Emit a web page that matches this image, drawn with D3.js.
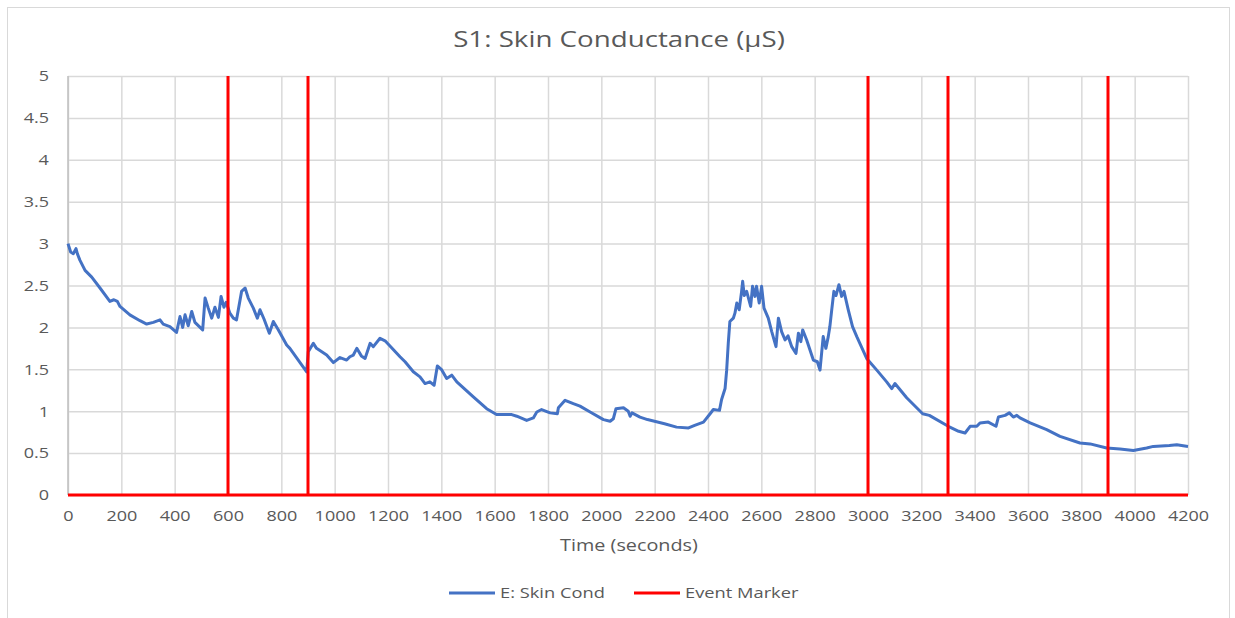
<!DOCTYPE html>
<html>
<head>
<meta charset="utf-8">
<script src="https://cdn.jsdelivr.net/npm/d3@7"></script>
<style>
  body { margin: 0; background: #fff; }
  text { font-family: "Open Sans", sans-serif; fill: #595959; }
  .stretch { transform-box: fill-box; transform-origin: center; transform: scaleX(1.2); }
  .title { transform-box: fill-box; transform-origin: center; transform: scaleX(1.32); }
  .ylab { transform-box: fill-box; transform-origin: right; transform: scaleX(1.2); }
  .grid line { stroke: #d9d9d9; stroke-width: 1.5; }
  .grid path { display: none; }
</style>
</head>
<body>
<div class="chartdiv"></div>
<script>
// skin conductance samples
var times = [0, 10, 20, 30, 35, 45, 64, 89, 120, 157, 172, 185, 195, 232, 270, 295, 320, 345, 357, 382,
  407, 420, 430, 439, 451, 464, 476, 505, 514, 526, 539, 551, 564, 574, 585, 593, 607, 620, 632, 651,
  664, 676, 695, 710, 720, 735, 755, 770, 789, 820, 832, 895, 901, 920, 932, 970, 995, 1020, 1045, 1057,
  1070, 1083, 1100, 1114, 1133, 1145, 1170, 1189, 1245, 1264, 1295, 1320, 1339, 1357, 1373, 1385, 1400, 1420, 1439, 1458,
  1520, 1570, 1607, 1633, 1664, 1683, 1720, 1745, 1758, 1776, 1808, 1835, 1839, 1864, 1895, 1920, 1958, 2008, 2033, 2045,
  2055, 2083, 2101, 2108, 2115, 2145, 2173, 2237, 2282, 2327, 2350, 2383, 2408, 2420, 2443, 2451, 2464, 2470, 2476, 2482,
  2495, 2501, 2508, 2517, 2526, 2530, 2536, 2545, 2560, 2567, 2576, 2582, 2592, 2601, 2610, 2626, 2639, 2655, 2664, 2676,
  2689, 2700, 2714, 2730, 2739, 2748, 2755, 2770, 2795, 2810, 2820, 2832, 2842, 2851, 2857, 2864, 2872, 2880, 2891, 2901,
  2910, 2926, 2942, 2958, 2995, 3033, 3070, 3089, 3101, 3145, 3205, 3230, 3301, 3340, 3364, 3383, 3408, 3420, 3451, 3480,
  3489, 3514, 3530, 3545, 3558, 3570, 3608, 3670, 3720, 3795, 3833, 3895, 3945, 3995, 4045, 4070, 4130, 4158, 4200];
var skinCond = [3.00, 2.90, 2.88, 2.94, 2.88, 2.80, 2.68, 2.60, 2.47, 2.31, 2.33, 2.31, 2.25, 2.15, 2.08, 2.04, 2.06, 2.09, 2.04, 2.01,
  1.94, 2.13, 2.00, 2.15, 2.02, 2.19, 2.06, 1.97, 2.35, 2.23, 2.11, 2.24, 2.12, 2.37, 2.24, 2.30, 2.17, 2.11, 2.09, 2.43,
  2.47, 2.35, 2.23, 2.11, 2.21, 2.10, 1.93, 2.07, 1.97, 1.79, 1.75, 1.47, 1.71, 1.81, 1.75, 1.67, 1.58, 1.64, 1.61, 1.65,
  1.67, 1.75, 1.66, 1.63, 1.81, 1.77, 1.87, 1.84, 1.65, 1.59, 1.47, 1.41, 1.33, 1.35, 1.31, 1.54, 1.50, 1.39, 1.43, 1.35,
  1.17, 1.03, 0.96, 0.96, 0.96, 0.94, 0.89, 0.92, 0.99, 1.02, 0.98, 0.97, 1.04, 1.13, 1.09, 1.06, 0.99, 0.90, 0.88, 0.91,
  1.03, 1.04, 1.00, 0.94, 0.98, 0.93, 0.90, 0.85, 0.81, 0.80, 0.83, 0.87, 0.97, 1.02, 1.01, 1.14, 1.27, 1.49, 1.81, 2.07,
  2.11, 2.17, 2.29, 2.21, 2.43, 2.55, 2.38, 2.43, 2.25, 2.49, 2.37, 2.49, 2.29, 2.49, 2.23, 2.11, 1.95, 1.77, 2.11, 1.95,
  1.85, 1.90, 1.77, 1.69, 1.93, 1.83, 1.97, 1.85, 1.61, 1.59, 1.49, 1.89, 1.75, 1.89, 2.01, 2.21, 2.43, 2.38, 2.51, 2.37,
  2.43, 2.21, 2.01, 1.89, 1.63, 1.49, 1.35, 1.27, 1.33, 1.16, 0.97, 0.95, 0.82, 0.76, 0.74, 0.82, 0.82, 0.86, 0.87, 0.82,
  0.93, 0.95, 0.98, 0.93, 0.95, 0.92, 0.86, 0.78, 0.70, 0.62, 0.61, 0.56, 0.55, 0.53, 0.56, 0.58, 0.59, 0.60, 0.58];

var eventTimes = [600, 900, 3000, 3300, 3900];
var eventHigh = 5;

var xTicks = d3.range(0, 4201, 200);
var yTicks = [0, 0.5, 1, 1.5, 2, 2.5, 3, 3.5, 4, 4.5, 5];

var W = 1235, H = 618;
var margin = {top: 76, right: 47, bottom: 123, left: 68};
var width = W - margin.left - margin.right;
var height = H - margin.top - margin.bottom;

var svg = d3.select(".chartdiv")
    .append("svg")
    .attr("width", W)
    .attr("height", H);

// outer chart border
svg.append("rect")
    .attr("x", 7.5).attr("y", 7.5)
    .attr("width", 1222).attr("height", 640)
    .attr("fill", "none")
    .attr("stroke", "#d9d9d9");

svg.append("text")
    .classed("title", true)
    .attr("x", 619).attr("y", 47)
    .attr("text-anchor", "middle")
    .style("font-size", "21px")
    .text("S1: Skin Conductance (µS)");

var g = svg.append("g")
    .attr("transform", "translate(" + margin.left + "," + margin.top + ")");

var x = d3.scaleLinear().domain([0, 4200]).range([0, width]);
var y = d3.scaleLinear().domain([0, 5]).range([height, 0]);

// gridlines
g.append("g").classed("grid", true)
    .call(d3.axisLeft(y).tickValues(yTicks).tickSize(-width).tickFormat(""));
g.append("g").classed("grid", true)
    .call(d3.axisBottom(x).tickValues(xTicks).tickSize(height).tickFormat(""));

// left axis line
g.append("line")
    .attr("x1", 0).attr("x2", 0).attr("y1", 0).attr("y2", height)
    .attr("stroke", "#bfbfbf").attr("stroke-width", 1.5);

var yAxis = g.append("g")
    .call(d3.axisLeft(y).tickValues(yTicks).tickSize(0).tickPadding(19).tickFormat(d3.format("")));
yAxis.select(".domain").remove();
yAxis.selectAll("text")
    .classed("ylab", true)
    .style("font-size", "15px");

var xAxis = g.append("g")
    .attr("transform", "translate(0," + height + ")")
    .call(d3.axisBottom(x).tickValues(xTicks).tickSize(0).tickPadding(15).tickFormat(d3.format("")));
xAxis.select(".domain").remove();
xAxis.selectAll("text")
    .classed("stretch", true)
    .style("font-size", "15px");

svg.append("text")
    .classed("stretch", true)
    .attr("x", 629).attr("y", 551)
    .attr("text-anchor", "middle")
    .style("font-size", "16.5px")
    .text("Time (seconds)");

var data = times.map(function(t, i) { return [t, skinCond[i]]; });

var line = d3.line()
    .x(function(d) { return x(d[0]); })
    .y(function(d) { return y(d[1]); });

g.append("path")
    .datum(data)
    .attr("fill", "none")
    .attr("stroke", "#4472c4")
    .attr("stroke-width", 3)
    .attr("stroke-linejoin", "round")
    .attr("d", line);

// event marker series: zero baseline with spikes at each event
var events = [[0, 0]];
eventTimes.forEach(function(t) {
  events.push([t, 0], [t, eventHigh], [t, 0]);
});
events.push([4200, 0]);

g.append("path")
    .datum(events)
    .attr("fill", "none")
    .attr("stroke", "#ff0000")
    .attr("stroke-width", 3)
    .attr("d", line);

// legend
var legend = svg.append("g").classed("legend", true);
var items = [
  {name: "E: Skin Cond", color: "#4472c4", x: 449},
  {name: "Event Marker", color: "#ff0000", x: 634}
];
items.forEach(function(d) {
  legend.append("line")
      .attr("x1", d.x).attr("x2", d.x + 46)
      .attr("y1", 593).attr("y2", 593)
      .attr("stroke", d.color).attr("stroke-width", 3);
  legend.append("text")
      .attr("x", d.x + 51).attr("y", 598)
      .style("font-size", "15px")
      .style("transform-box", "fill-box")
      .style("transform-origin", "left")
      .style("transform", "scaleX(1.22)")
      .text(d.name);
});
</script>
</body>
</html>
